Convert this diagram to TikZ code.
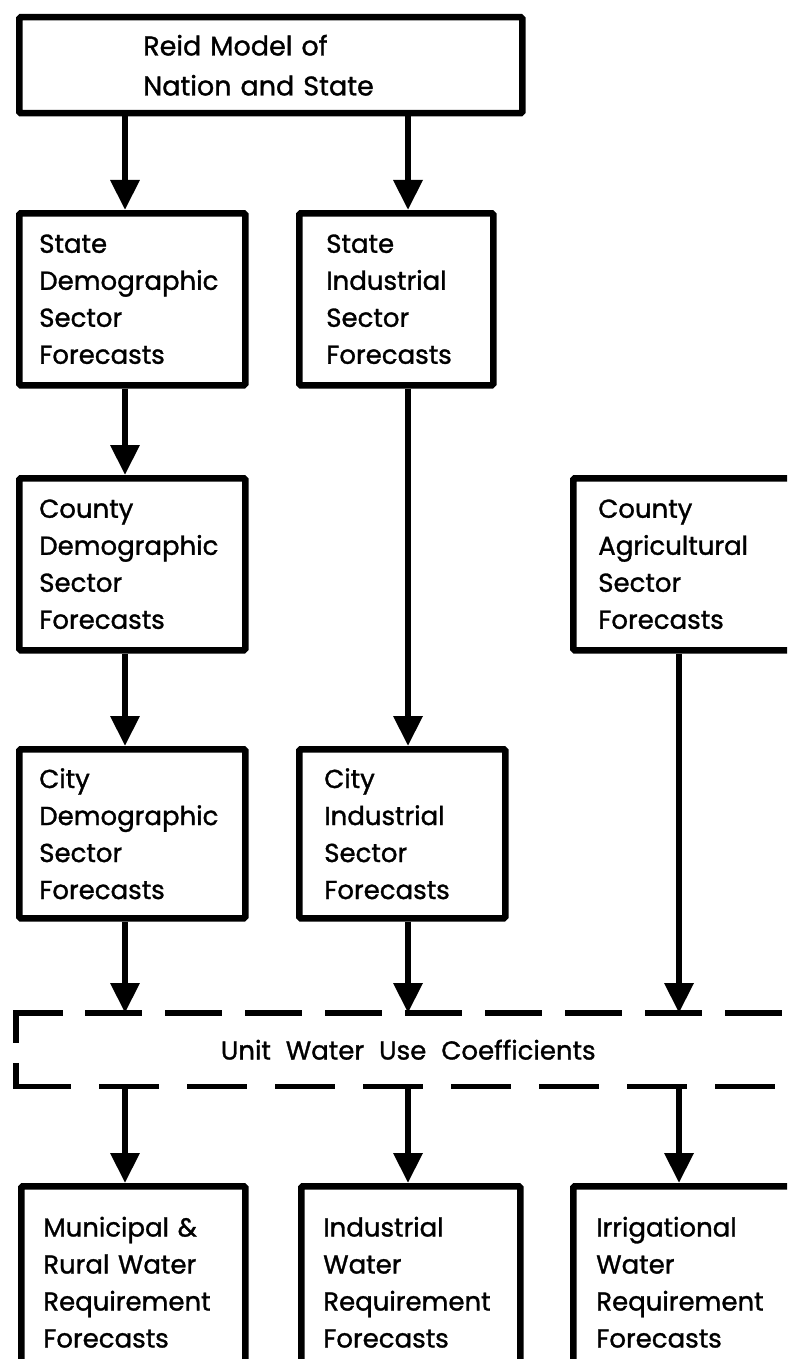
\documentclass[tikz,border=0pt]{standalone}
\usepackage{fontspec}
\setmainfont{Poppins}[FakeBold=1.2]
\usetikzlibrary{arrows.meta}
% wider word spacing for the band label
\newcommand\widewords{\spaceskip=15pt\relax}
\begin{document}
\begin{tikzpicture}[x=1pt,y=-1pt,
  box/.style={draw, line width=6.5pt, rounded corners=1.5pt, align=left,
    inner ysep=0pt, anchor=north west, font=\fontsize{26}{37}\selectfont},
  flow/.style={line width=6.5pt, -{Triangle[width=28pt,length=30pt]}},
  coefline/.style={line width=5.5pt}
]
\useasboundingbox (0,0) rectangle (787,1359);
\clip (0,0) rectangle (787,1359);

% columns of the vertical connectors
\coordinate (lcol) at (125,0);
\coordinate (mcol) at (408,0);
\coordinate (rcol) at (679,0);

% boxes
\node[box, minimum width=503pt, minimum height=96pt, text width=255pt, inner xsep=124pt,
  font=\fontsize{27}{40}\selectfont]
  (top) at (16,14) {Reid Model of\\Nation and State};

\node[box, minimum width=226pt, minimum height=172pt, text width=186pt, inner xsep=20pt]
  (sdem) at (16,210) {State\\Demographic\\Sector\\Forecasts};
\node[box, minimum width=194pt, minimum height=172pt, text width=140pt, inner xsep=27pt]
  (sind) at (296,210) {State\\Industrial\\Sector\\Forecasts};

\node[box, minimum width=226pt, minimum height=172pt, text width=186pt, inner xsep=20pt]
  (cdem) at (16,475) {County\\Demographic\\Sector\\Forecasts};
\node[box, minimum width=250pt, minimum height=172pt, text width=200pt, inner xsep=25pt]
  (cagr) at (570,475) {County\\Agricultural\\Sector\\Forecasts};

\node[box, minimum width=226pt, minimum height=169pt, text width=186pt, inner xsep=20pt]
  (citd) at (16,746) {City\\Demographic\\Sector\\Forecasts};
\node[box, minimum width=206pt, minimum height=169pt, text width=156pt, inner xsep=25pt]
  (citi) at (296,746) {City\\Industrial\\Sector\\Forecasts};

\node[box, draw=none, minimum width=778pt, minimum height=67pt]
  (coef) at (16,1013) {\widewords Unit Water Use Coefficients};

\node[box, minimum width=224pt, minimum height=192pt, text width=180pt, inner xsep=22pt]
  (mun) at (18,1183) {Municipal \&\\Rural Water\\Requirement\\Forecasts};
\node[box, minimum width=219pt, minimum height=192pt, text width=175pt, inner xsep=22pt]
  (ind) at (298,1183) {Industrial\\Water\\Requirement\\Forecasts};
\node[box, minimum width=250pt, minimum height=192pt, text width=204pt, inner xsep=23pt]
  (irr) at (570,1183) {Irrigational\\Water\\Requirement\\Forecasts};

% dashed outline of the coefficient band (open to the right)
\draw[coefline, dash pattern=on 77pt off 22pt on 57pt off 23pt on 57pt off 23pt
  on 57pt off 23pt on 57pt off 23pt on 57pt off 23pt on 57pt off 23pt
  on 57pt off 23pt on 57pt off 23pt on 57pt off 23pt on 57pt off 23pt on 57pt off 23pt]
  ([yshift=7pt]coef.west) -- (coef.north west) -- (coef.north east);
\draw[coefline, dash pattern=on 79pt off 28pt on 60pt off 28pt on 60pt off 28pt
  on 60pt off 28pt on 60pt off 28pt on 60pt off 28pt on 60pt off 28pt
  on 60pt off 28pt on 60pt off 28pt on 60pt off 28pt on 60pt off 28pt]
  ([yshift=-13pt]coef.west) -- (coef.south west) -- (coef.south east);

% connectors
\draw[flow] (top.south -| lcol) -- (sdem.north -| lcol);
\draw[flow] (top.south -| mcol) -- (sind.north -| mcol);
\draw[flow] (sdem.south -| lcol) -- (cdem.north -| lcol);
\draw[flow] (cdem.south -| lcol) -- (citd.north -| lcol);
\draw[flow] (sind.south -| mcol) -- (citi.north -| mcol);
\draw[flow] (citd.south -| lcol) -- (coef.north -| lcol);
\draw[flow] (citi.south -| mcol) -- (coef.north -| mcol);
\draw[flow] (cagr.south -| rcol) -- (coef.north -| rcol);
\draw[flow] (coef.south -| lcol) -- (mun.north -| lcol);
\draw[flow] (coef.south -| mcol) -- (ind.north -| mcol);
\draw[flow] (coef.south -| rcol) -- (irr.north -| rcol);
\end{tikzpicture}
\end{document}
